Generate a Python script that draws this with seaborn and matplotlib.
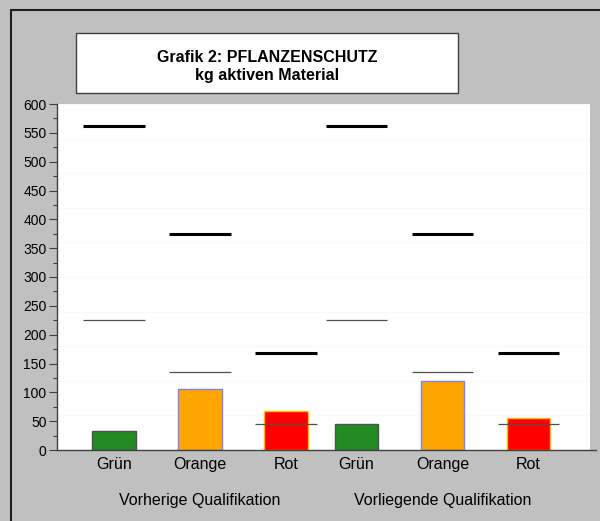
import pandas as pd
import numpy as np
import matplotlib
matplotlib.use("Agg")
import matplotlib.pyplot as plt
import matplotlib.transforms as mtransforms
from matplotlib.patches import Rectangle
import seaborn as sns

# --- Daten ---
kategorien = ["Grün", "Orange", "Rot", "Grün", "Orange", "Rot"]
gruppen = ["Vorherige Qualifikation", "Vorliegende Qualifikation"]
positionen = [0, 1, 2, 2.82, 3.82, 4.82]
werte = [33, 106, 68, 45, 120, 55]
obergrenze = [562, 375, 168, 562, 375, 168]   # dicke Linien
untergrenze = [225, 135, 45, 225, 135, 45]    # dünne Linien

farben = {"Grün": "#228B22", "Orange": "#FFA500", "Rot": "#FF0000"}
randfarben = {"Grün": "#505050", "Orange": "#8080FF", "Rot": "#FFC000"}

df = pd.DataFrame({"pos": positionen, "wert": werte, "farbe": kategorien})

sns.set_style("ticks")
plt.rcParams["font.family"] = ["Liberation Sans", "DejaVu Sans"]
plt.rcParams["text.color"] = "black"
plt.rcParams["xtick.labelcolor"] = "black"
plt.rcParams["ytick.labelcolor"] = "black"

fig = plt.figure(figsize=(6.0, 5.21), dpi=100)
fig.patch.set_facecolor("#C0C0C0")

# Rahmen um die ganze Grafik
fig.patches.append(Rectangle((11 / 600, -0.1), 1.2, 1 - 10 / 521 + 0.1,
                             transform=fig.transFigure, fill=False,
                             edgecolor="#202020", lw=1.5, zorder=0))

ax = fig.add_axes([57 / 600, 1 - 450 / 521, 533 / 600, 346 / 521])
ax.set_facecolor("white")

# sehr blasse Gitterlinien
for g in range(60, 601, 60):
    ax.axhline(g, color="#FAFAFA", lw=0.8, zorder=0)

sns.barplot(data=df, x="pos", y="wert", hue="farbe", palette=farben,
            native_scale=True, dodge=False, width=0.51 / 0.82,
            legend=False, saturation=1, ax=ax, zorder=2)

# Randfarben pro Balken
inv = {matplotlib.colors.to_hex(v).lower(): k for k, v in farben.items()}
for p in ax.patches:
    k = inv.get(matplotlib.colors.to_hex(p.get_facecolor()).lower())
    if k:
        p.set_edgecolor(randfarben[k])
        p.set_linewidth(1.0)

halb = 0.355
pos = np.array(positionen)
ax.hlines(obergrenze, pos - halb, pos + halb, colors="black", lw=2.2, zorder=3)
ax.hlines(untergrenze, pos - halb, pos + halb, colors="#505050", lw=0.9, zorder=3)

ax.set_xlim(-0.663, 5.535)
ax.set_ylim(0, 600)
ax.set_yticks(range(0, 601, 50))
ax.set_yticks(range(25, 600, 50), minor=True)
ax.tick_params(axis="y", which="major", length=6, width=0.8, color="#404040",
               labelsize=10, pad=1.5, labelcolor="black")
ax.tick_params(axis="y", which="minor", length=3, width=0.8, color="#404040")
ax.set_xticks(positionen)
ax.set_xticklabels(kategorien)
ax.tick_params(axis="x", length=0, labelsize=11.5, pad=5, labelcolor="black")
ax.set_xlabel("")
ax.set_ylabel("")

for s in ["top", "right"]:
    ax.spines[s].set_visible(False)
for s in ["left", "bottom"]:
    ax.spines[s].set_color("#404040")
    ax.spines[s].set_linewidth(1.0)
# untere Achse etwas über den weißen Bereich hinaus
ax.spines["bottom"].set_bounds(-0.663, 5.6)
ax.spines["bottom"].set_clip_on(False)

# Gruppenbeschriftungen
trans = mtransforms.blended_transform_factory(ax.transData, fig.transFigure)
for gname, gx in zip(gruppen, [positionen[1], positionen[4]]):
    ax.text(gx, 1 - 505 / 521, gname, transform=trans, ha="center",
            va="baseline", fontsize=11.5, color="black")

# Titelkasten
fig.patches.append(Rectangle((76 / 600, 1 - 93 / 521), 382 / 600, 60 / 521,
                             transform=fig.transFigure, facecolor="white",
                             edgecolor="#404040", lw=1.0))
fig.text(267 / 600, 1 - 62 / 521, "Grafik 2: PFLANZENSCHUTZ", ha="center",
         va="baseline", fontsize=11.5, fontweight="bold", color="black")
fig.text(267 / 600, 1 - 80 / 521, "kg aktiven Material", ha="center",
         va="baseline", fontsize=11.5, fontweight="bold", color="black")

fig.savefig("out.png", dpi=100, facecolor=fig.get_facecolor())
